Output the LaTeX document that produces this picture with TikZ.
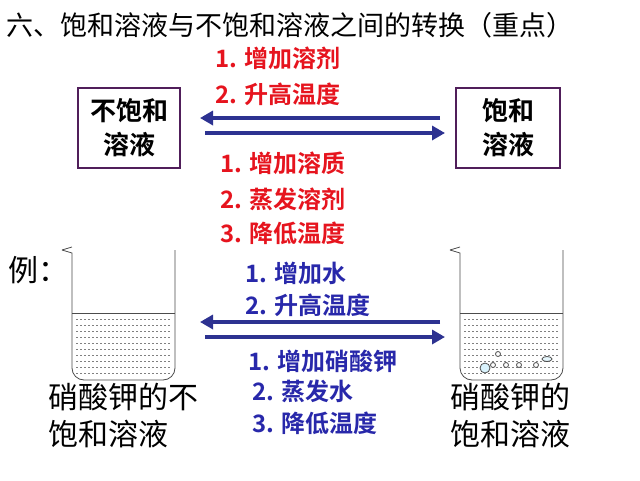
\documentclass[tikz,border=0pt]{standalone}
\usetikzlibrary{arrows.meta}
\usepackage{fontspec}
\newfontfamily\cjk{Noto Sans CJK SC}
\newfontfamily\cjkb{Noto Sans CJK SC Bold}
\definecolor{rd}{RGB}{230,20,30}
\definecolor{bl}{RGB}{40,40,170}
\definecolor{ar}{RGB}{45,50,145}
\definecolor{bxc}{RGB}{80,30,90}
\begin{document}
\begin{tikzpicture}[x=1pt,y=-1pt,
 red/.style={text=rd,font=\cjkb\fontsize{24}{24}\selectfont,anchor=west,inner sep=0},
 blu/.style={text=bl,font=\cjkb\fontsize{24}{24}\selectfont,anchor=west,inner sep=0},
 blk/.style={font=\cjk\fontsize{30}{37}\selectfont,inner sep=0},
 bx/.style={draw=bxc,line width=1.8pt,align=center,font=\cjkb\fontsize{26}{34}\selectfont},
 arr/.style={draw=ar,line width=4pt,-{Triangle[length=13pt,width=14pt]}},
 bk/.style={draw=black!70,line width=0.8pt}]
\useasboundingbox (0,0) rectangle (640,480);
\fill[white] (0,0) rectangle (640,480);
\node[font=\cjk\fontsize{27}{27}\selectfont,anchor=west,inner sep=0] (t) at (6,25) {六、饱和溶液与不饱和溶液之间的转换（重点）};
\node[bx,minimum width=102pt,minimum height=80pt] (L) at (129,128) {不饱和\\溶液};
\node[bx,minimum width=104pt,minimum height=80pt] (R) at (508,128) {饱和\\溶液};
\node[red] (r1) at (215,58) {1. 增加溶剂};
\node[red] (r2) at (215,94) {2. 升高温度};
\node[red] (r3) at (220,163) {1. 增加溶质};
\node[red] (r4) at (220,199) {2. 蒸发溶剂};
\node[red] (r5) at (220,233) {3. 降低温度};
\coordinate (a1s) at (440,118); \coordinate (a1e) at (200,118);
\coordinate (a2s) at (205,133); \coordinate (a2e) at (445,133);
\draw[arr] (a1s) -- (a1e);
\draw[arr] (a2s) -- (a2e);
\node[blk,anchor=west] (ex) at (8,270) {例：};
\node[blu] (b1) at (245,273) {1. 增加水};
\node[blu] (b2) at (245,305) {2. 升高温度};
\node[blu] (b3) at (248,361) {1. 增加硝酸钾};
\node[blu] (b4) at (252,391) {2. 蒸发水};
\node[blu] (b5) at (252,423) {3. 降低温度};
\coordinate (a3s) at (440,322); \coordinate (a3e) at (200,322);
\coordinate (a4s) at (205,337); \coordinate (a4e) at (445,337);
\draw[arr] (a3s) -- (a3e);
\draw[arr] (a4s) -- (a4e);
% beakers
\foreach \x in {0,388}{
 \begin{scope}[xshift=\x]
 \foreach \yy in {319,325,...,373} \draw[gray,dash pattern=on 2pt off 2pt,line width=0.5pt] (76,\yy) -- (171,\yy);
 \draw[bk] (72,313) -- (175,313);
 \draw[bk] (62,250) -- (72,253) -- (72,368) arc (180:90:12) -- (163,380) arc (90:0:12) -- (175,250);
 \draw[bk] (62,250) -- (72,247);
 \end{scope}}
\draw[bk,fill=cyan!15] (485,368) circle (5);
\foreach \p in {(493,365),(506,365),(519,365),(536,365),(498,354)} \draw[bk,fill=white] \p circle (2.5);
\draw[bk,fill=cyan!10] (547,359) ellipse (5 and 2.5);
\node[blk,align=left,anchor=north west] (c1) at (48,383) {硝酸钾的不\\饱和溶液};
\node[blk,align=left,anchor=north west] (c2) at (450,383) {硝酸钾的\\饱和溶液};
\end{tikzpicture}
\end{document}
